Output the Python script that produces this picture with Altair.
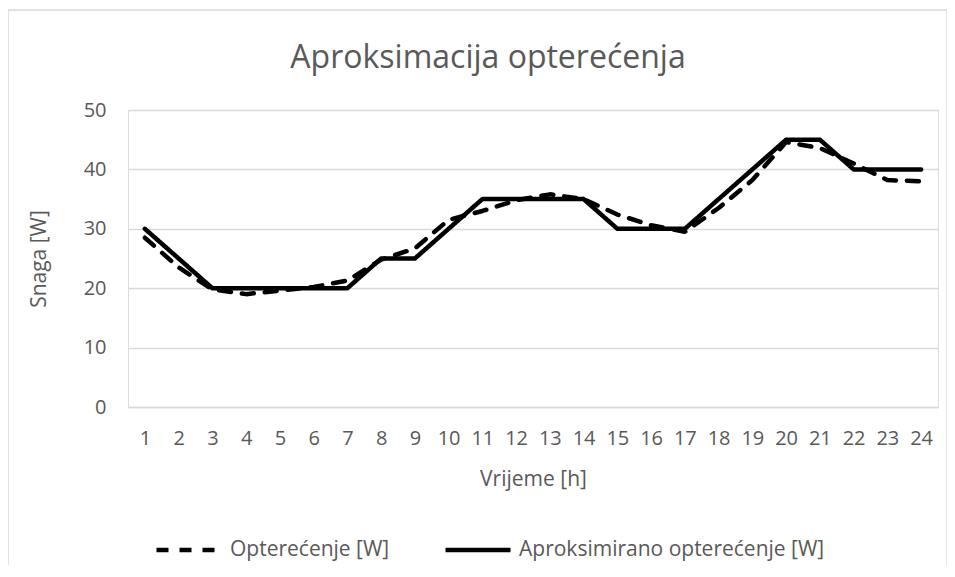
import altair as alt
import pandas as pd

hours = list(range(1, 25))
opterecenje = [28.5, 23.5, 19.8, 19.0, 19.6, 20.2, 21.3, 24.8, 26.7, 31.5, 33.0, 34.8,
               35.8, 35.0, 32.4, 30.6, 29.5, 33.5, 38.2, 44.6, 43.6, 41.0, 38.2, 38.0]
aproksimirano = [30, 25, 20, 20, 20, 20, 20, 25, 25, 30, 35, 35,
                 35, 35, 30, 30, 30, 35, 40, 45, 45, 40, 40, 40]
series_names = ["Opterećenje [W]", "Aproksimirano opterećenje [W]"]

rows = []
for h, v in zip(hours, aproksimirano):
    rows.append({"sat": h, "vrijednost": v, "serija": series_names[1], "ord": 0})
for h, v in zip(hours, opterecenje):
    rows.append({"sat": h, "vrijednost": v, "serija": series_names[0], "ord": 1})
df = pd.DataFrame(rows)

GRAY = "#595959"
GRID = "#d9d9d9"
FONT = "Open Sans"

W, H = 810, 297

lines = alt.Chart(df).mark_line(
    color="black", strokeWidth=4.5, strokeCap="round", strokeJoin="round"
).encode(
    x=alt.X("sat:O", title="Vrijeme [h]",
            scale=alt.Scale(type="point", padding=0.5),
            axis=alt.Axis(labelAngle=0, labelFontSize=20, labelColor=GRAY,
                          titleFontSize=21, titleColor=GRAY, titleFontWeight="normal",
                          labelPadding=21, titlePadding=20,
                          ticks=False, domainColor=GRID, domainWidth=1.5,
                          grid=False, labelFont=FONT, titleFont=FONT)),
    y=alt.Y("vrijednost:Q", title="Snaga [W]",
            scale=alt.Scale(domain=[0, 50], nice=False),
            axis=alt.Axis(values=[0, 10, 20, 30, 40, 50], labelFontSize=20,
                          labelColor=GRAY, titleFontSize=21, titleColor=GRAY,
                          titleFontWeight="normal", labelPadding=22, titlePadding=34,
                          ticks=False, domain=False, gridColor=GRID, gridWidth=1.5,
                          labelFont=FONT, titleFont=FONT)),
    strokeDash=alt.StrokeDash(
        "serija:N",
        scale=alt.Scale(domain=series_names, range=[[12, 11], [1, 0]]),
        legend=alt.Legend(title=None, orient="none", direction="horizontal",
                          columns=2, legendX=26, legendY=405,
                          symbolType="stroke", symbolSize=4225,
                          symbolStrokeWidth=4.5, symbolStrokeColor="black",
                          labelFontSize=21, labelColor=GRAY, labelFont=FONT,
                          labelOffset=6, columnPadding=46, labelLimit=400)),
    order=alt.Order("ord:Q"),
)

one = pd.DataFrame({"k": [0]})
border_left = alt.Chart(one).mark_rule(color=GRID, strokeWidth=1.5).encode(
    x=alt.value(-120), x2=alt.value(-120), y=alt.value(-100), y2=alt.value(460)
)
border_top = alt.Chart(one).mark_rule(color=GRID, strokeWidth=1.5).encode(
    x=alt.value(-120), x2=alt.value(819), y=alt.value(-100)
)
border_right = alt.Chart(one).mark_rule(color=GRID, strokeWidth=1.5).encode(
    x=alt.value(819), x2=alt.value(819), y=alt.value(-100), y2=alt.value(460)
)

chart = alt.layer(border_left, border_top, border_right, lines).properties(
    width=W, height=H,
    title=alt.TitleParams("Aproksimacija opterećenja", fontSize=32, color=GRAY,
                          font=FONT, fontWeight="normal", anchor="middle",
                          frame="group", dx=-45, offset=-66),
    autosize=alt.AutoSizeParams(type="none"),
    padding={"left": 120, "top": 102, "right": 9, "bottom": 158},
).configure_view(stroke=None).configure(background="white")

chart.save("out.html", embed_options={"renderer": "svg", "actions": False})
